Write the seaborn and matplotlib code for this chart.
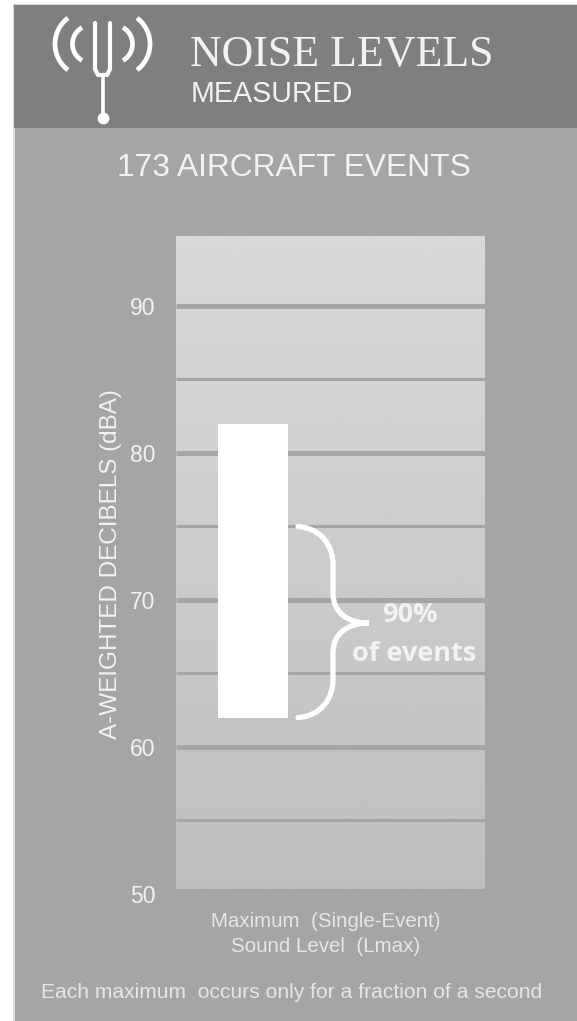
import numpy as np
import pandas as pd
import matplotlib.pyplot as plt
from matplotlib.patches import PathPatch, Rectangle
from matplotlib.path import Path
import seaborn as sns

categories = ['Lmax']
event_low = [62]
event_high = [82]
bracket_top = 75
bracket_bottom = 62
major_levels = [60, 70, 80, 90]
minor_levels = [55, 65, 75, 85]
tick_values = [50, 60, 70, 80, 90]

sns.set_theme(style='white')
plt.rcParams['font.family'] = ['Liberation Sans', 'DejaVu Sans']

W, H = 577, 1021
TEXT = '#f2f2f2'
BODY = '#a5a5a5'
fig = plt.figure(figsize=(W / 100, H / 100), dpi=100, facecolor='white')

# pixel canvas for the panels, the icon and the free text
bg = fig.add_axes([0, 0, 1, 1], zorder=0)
bg.set_xlim(0, W)
bg.set_ylim(H, 0)
bg.axis('off')
bg.add_patch(Rectangle((13, 4), W - 13, H - 4, color='#d9d9d9', lw=0))
bg.add_patch(Rectangle((15, 128), W - 15, H - 128, color=BODY, lw=0))
bg.add_patch(Rectangle((14, 5), W - 14, 123, color='#7f7f7f', lw=0))

# tuning fork
bg.plot([95, 95, 98, 107, 110, 110], [23, 69, 75, 75, 69, 23], color='white', lw=3.0, solid_joinstyle='round')
bg.plot([102.7, 102.7], [75, 118], color='white', lw=2.6)
bg.plot([102.7], [118], 'o', color='white', ms=7.5)
for cx_l, cx_r, r, half in [(87.5, 117.5, 32.5, 0.927), (91.5, 113.5, 19, 1.05)]:
    t = np.linspace(-half, half, 40)
    bg.plot(cx_l - r * np.cos(t), 44 + r * np.sin(t), color='white', lw=3.4, solid_capstyle='butt')
    bg.plot(cx_r + r * np.cos(t), 44 + r * np.sin(t), color='white', lw=3.4, solid_capstyle='butt')

bg.text(190, 55, 'NOISE LEVELS', color=TEXT, fontsize=31.6, family='Liberation Serif', va='center', ha='left')
bg.text(191, 94, 'MEASURED', color=TEXT, fontsize=20.6, va='center', ha='left')
bg.text(293.5, 168, '173 AIRCRAFT EVENTS', color=TEXT, fontsize=22.9, va='center', ha='center')
bg.text(326, 921, 'Maximum  (Single-Event)', color='#e6e6e6', fontsize=14.8, va='center', ha='center')
bg.text(326, 946, 'Sound Level  (Lmax)', color='#e6e6e6', fontsize=14.8, va='center', ha='center')
bg.text(291.5, 992, 'Each maximum  occurs only for a fraction of a second', color='#e6e6e6', fontsize=15.1, va='center', ha='center')
bg.text(111, 564, 'A-WEIGHTED DECIBELS (dBA)', color=TEXT, fontsize=17.5, rotation=90, va='center', ha='center')

# main plot, y range runs a little past the panel so the 50 tick still shows
ax_left, ax_right, ax_top, ax_bottom = 176, 485, 236, 894
ax = fig.add_axes([ax_left / W, 1 - ax_bottom / H, (ax_right - ax_left) / W, (ax_bottom - ax_top) / H], zorder=1)
ax.patch.set_visible(False)
for s in ax.spines.values():
    s.set_visible(False)

xlim = (-0.88, 2.651)
panel_low = 50.34
panel_high = 94.76
grad = np.linspace(0.85, 0.745, 256).reshape(-1, 1)
ax.imshow(grad, cmap='gray', vmin=0, vmax=1, aspect='auto', zorder=0,
          extent=[xlim[0], xlim[1], panel_low, panel_high], origin='upper')

ax.hlines(major_levels, *xlim, color=BODY, lw=3.6, zorder=1)
ax.hlines(minor_levels, *xlim, color=BODY, lw=2.2, zorder=1)

df = pd.DataFrame({'cat': categories, 'span': np.array(event_high) - np.array(event_low)})
sns.barplot(data=df, x='cat', y='span', bottom=event_low, color='white', saturation=1, width=0.8,
            ax=ax, zorder=2, linewidth=0)

ax.set_xlim(*xlim)
ax.set_ylim(50, panel_high)
ax.set_xlabel('')
ax.set_ylabel('')
ax.set_xticks([])
ax.set_yticks(tick_values)
ax.tick_params(axis='y', length=0, pad=15, labelsize=16.5, labelcolor=TEXT)

# curly bracket, mapped from data values to canvas pixels
def to_px(v):
    return ax_bottom - (v - 50) / (panel_high - 50) * (ax_bottom - ax_top)

y0, y1 = to_px(bracket_top), to_px(bracket_bottom)
ym = (y0 + y1) / 2 + 1
verts = [(298, y0), (322, y0 + 2), (333, y0 + 20), (333, y0 + 38),
         (333, ym - 30), (333, ym - 30), (333, ym - 30),
         (333, ym - 10), (348, ym), (369, ym),
         (348, ym), (333, ym + 10), (333, ym + 30),
         (333, y1 - 38), (333, y1 - 38), (333, y1 - 38),
         (333, y1 - 20), (322, y1 - 2), (298, y1)]
codes = [Path.MOVETO] + [Path.CURVE4] * 18
over = fig.add_axes([0, 0, 1, 1], zorder=2)
over.set_xlim(0, W)
over.set_ylim(H, 0)
over.axis('off')
over.add_patch(PathPatch(Path(verts, codes), fc='none', ec='white', lw=3.8, capstyle='round'))
over.text(410, 615, '90%', color=TEXT, fontsize=19.5, fontweight='bold', family='Open Sans', va='center', ha='center')
over.text(414.5, 654, 'of events', color=TEXT, fontsize=19.5, fontweight='bold', family='Open Sans', va='center', ha='center')

fig.savefig('out.png', dpi=100)
